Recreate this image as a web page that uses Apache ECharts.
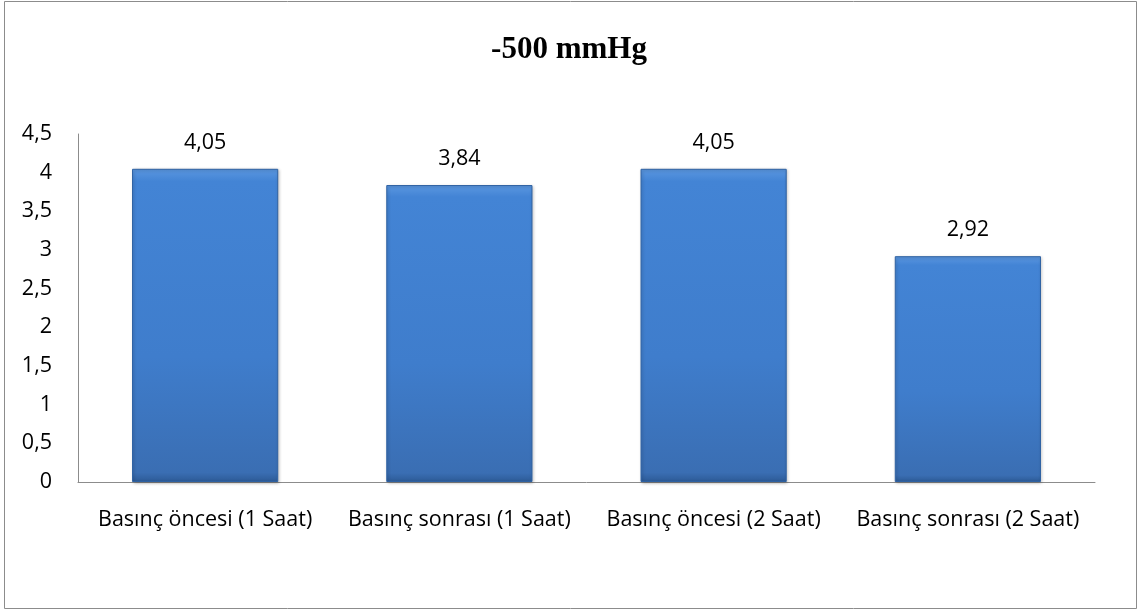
<!DOCTYPE html>
<html>
<head>
<meta charset="utf-8">
<script src="https://cdn.jsdelivr.net/npm/echarts@6/dist/echarts.min.js"></script>
<style>
  html, body { margin: 0; padding: 0; background: #fff; }
  #chart { width: 1138px; height: 610px; }
</style>
</head>
<body>
<div id="chart"></div>
<script>
// Chart data
const chartTitle = '-500 mmHg';
const categories = ['Basınç öncesi (1 Saat)', 'Basınç sonrası (1 Saat)', 'Basınç öncesi (2 Saat)', 'Basınç sonrası (2 Saat)'];
const values = [4.05, 3.84, 4.05, 2.92];

const fmt = v => String(v).replace('.', ',');
const labelFont = '"Open Sans", "Noto Sans", sans-serif';

const chart = echarts.init(document.getElementById('chart'), null, { renderer: 'canvas' });

chart.setOption({
  animation: false,
  backgroundColor: '#ffffff',
  title: {
    text: chartTitle,
    left: 'center',
    top: 29,
    textStyle: { fontFamily: '"Liberation Serif", "Times New Roman", serif', fontWeight: 'bold', fontSize: 31, color: '#000' }
  },
  graphic: [{
    type: 'rect',
    shape: { x: 4.5, y: 1.5, width: 1132, height: 607 },
    style: { fill: 'none', stroke: '#8c8c8c', lineWidth: 1 },
    silent: true
  }],
  grid: { left: 78, right: 43, top: 134, bottom: 128 },
  xAxis: {
    type: 'category',
    data: categories,
    axisLine: { lineStyle: { color: '#8c8c8c', width: 1 } },
    axisTick: { show: false },
    axisLabel: { color: '#000', fontFamily: labelFont, fontSize: 21.5, margin: 27, interval: 0 }
  },
  yAxis: {
    type: 'value',
    min: 0,
    max: 4.5,
    interval: 0.5,
    splitLine: { show: false },
    axisLine: { show: true, lineStyle: { color: '#8c8c8c', width: 1 } },
    axisTick: { show: false },
    axisLabel: { color: '#000', fontFamily: labelFont, fontSize: 21.5, margin: 26, formatter: v => fmt(v) }
  },
  series: [{
    type: 'bar',
    data: values,
    barWidth: '57.5%',
    itemStyle: {
      color: new echarts.graphic.LinearGradient(0, 0, 0, 1, [
        { offset: 0, color: '#5b97e0' },
        { offset: 0.04, color: '#4384d5' },
        { offset: 0.6, color: '#3f7dcc' },
        { offset: 0.97, color: '#3a6eb3' },
        { offset: 1, color: '#2c5a96' }
      ]),
      borderColor: '#2f62a3',
      borderWidth: 1,
      shadowColor: 'rgba(0,0,0,0.25)',
      shadowBlur: 3,
      shadowOffsetX: 1,
      shadowOffsetY: 1
    },
    label: {
      show: true,
      position: 'top',
      distance: 15,
      color: '#000',
      fontFamily: labelFont,
      fontSize: 21.5,
      formatter: p => fmt(p.value)
    }
  }]
});
</script>
</body>
</html>
